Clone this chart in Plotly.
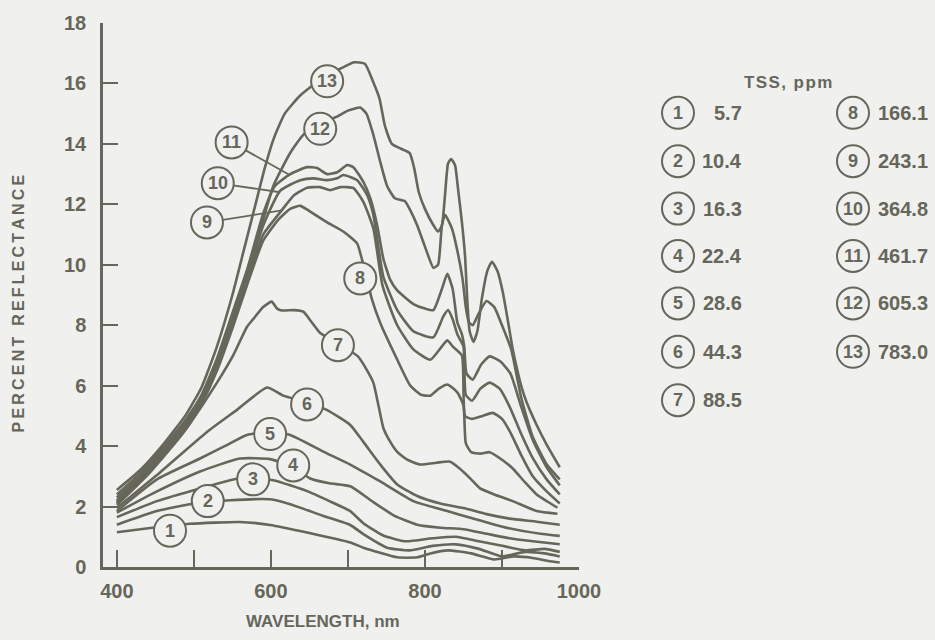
import plotly.graph_objects as go

# ---------------- data ----------------
wl1 = [400, 446, 495, 560, 599, 647, 703, 720, 764, 790, 807, 830, 860, 890, 915, 940, 960, 975]
r1 = [1.15, 1.3, 1.43, 1.49, 1.39, 1.14, 0.81, 0.64, 0.32, 0.32, 0.45, 0.55, 0.45, 0.25, 0.35, 0.3, 0.2, 0.15]

wl2 = [400, 452, 500, 547, 599, 625, 668, 703, 720, 751, 780, 810, 840, 870, 900, 930, 955, 975]
r2 = [1.4, 1.85, 2.1, 2.21, 2.24, 2.08, 1.69, 1.39, 1.09, 0.64, 0.55, 0.7, 0.75, 0.6, 0.35, 0.5, 0.45, 0.35]

wl3 = [400, 452, 508, 556, 577, 603, 647, 676, 703, 720, 746, 775, 810, 840, 870, 900, 930, 955, 975]
r3 = [1.65, 2.18, 2.6, 2.92, 2.92, 2.87, 2.51, 2.18, 1.85, 1.45, 1.04, 0.85, 0.95, 1.0, 0.85, 0.7, 0.55, 0.6, 0.5]

wl4 = [400, 452, 508, 560, 599, 630, 651, 676, 703, 730, 760, 790, 820, 850, 880, 910, 940, 975]
r4 = [1.8, 2.5, 3.16, 3.59, 3.57, 3.3, 2.93, 2.77, 2.67, 2.2, 1.7, 1.4, 1.3, 1.25, 1.1, 0.95, 0.85, 0.75]

wl5 = [400, 452, 508, 540, 569, 599, 625, 668, 703, 742, 785, 829, 859, 906, 950, 975]
r5 = [1.85, 2.9, 3.59, 4.0, 4.37, 4.45, 4.37, 3.82, 3.39, 2.83, 2.18, 1.85, 1.63, 1.3, 1.1, 1.03]

wl6 = [400, 450, 517, 556, 595, 616, 647, 673, 703, 720, 742, 764, 790, 820, 850, 880, 910, 945, 975]
r6 = [1.95, 3.0, 4.47, 5.2, 5.94, 5.67, 5.45, 5.19, 4.7, 4.14, 3.39, 2.73, 2.35, 2.1, 1.95, 1.75, 1.6, 1.5, 1.4]

wl7 = [400, 440, 482, 495, 530, 551, 569, 577, 590, 601, 608, 614, 630, 642, 653, 664, 690, 713,
       725, 733, 740, 746, 755, 764, 777, 794, 815, 832, 845, 860, 871, 890, 914, 945, 972]
r7 = [2.05, 3.05, 4.3, 4.75, 6.1, 7.0, 7.95, 8.2, 8.6, 8.78, 8.55, 8.49, 8.5, 8.45, 8.1, 7.74, 7.35, 6.97,
      6.5, 6.1, 5.3, 4.6, 4.14, 3.81, 3.55, 3.39, 3.45, 3.49, 3.26, 2.9, 2.61, 2.4, 2.18, 1.85, 1.76]

wl8 = [400, 430, 460, 490, 510, 530, 550, 570, 590, 610, 625, 638, 651, 673, 694, 712, 718, 725, 731,
       742, 764, 781, 795, 807, 818, 829, 842, 850, 853, 860, 872, 884, 900, 914, 930, 945, 960, 972]
r8 = [2.1, 2.85, 3.65, 4.6, 5.4, 6.5, 7.9, 9.4, 10.8, 11.5, 11.85, 11.95, 11.76, 11.4, 11.1, 10.7, 10.2, 9.5, 8.87,
      8.07, 6.86, 6.0, 5.7, 5.67, 5.9, 6.04, 5.78, 5.35, 4.1, 3.8, 3.75, 3.8, 3.55, 3.26, 2.8, 2.4, 2.15, 1.96]

wl9 = [400, 430, 460, 490, 510, 530, 550, 570, 590, 614, 630, 647, 664, 677, 690, 707, 720, 733, 745,
       764, 785, 807, 822, 829, 836, 848, 852, 861, 875, 888, 900, 912, 925, 940, 958, 975]
r9 = [2.15, 2.9, 3.75, 4.7, 5.5, 6.6, 8.0, 9.55, 11.0, 11.8, 12.3, 12.55, 12.57, 12.47, 12.57, 12.54, 12.08, 11.2, 9.3,
      8.0, 7.2, 6.86, 7.3, 7.5, 7.3, 7.0, 5.0, 4.9, 5.0, 5.1, 4.9, 4.4, 3.7, 3.0, 2.5, 2.1]

wl10 = [400, 430, 460, 490, 510, 530, 550, 570, 590, 612, 638, 655, 673, 686, 694, 712, 725, 733, 740,
        746, 764, 785, 811, 824, 830, 836, 842, 850, 853, 861, 872, 884, 897, 910, 925, 940, 958, 975]
r10 = [2.2, 2.95, 3.8, 4.75, 5.55, 6.7, 8.1, 9.7, 11.3, 12.45, 12.8, 12.86, 12.8, 12.86, 12.97, 12.8, 12.3, 11.65, 10.5,
       9.6, 8.5, 7.8, 7.6, 8.3, 8.5, 8.2, 7.7, 7.3, 5.7, 5.5, 5.9, 6.1, 5.9, 5.3, 4.4, 3.6, 2.9, 2.4]

wl11 = [400, 430, 460, 490, 510, 530, 550, 570, 590, 605, 625, 647, 660, 673, 686, 699, 707, 720, 729,
        738, 746, 755, 764, 785, 800, 811, 822, 829, 836, 842, 848, 851, 854, 862, 873, 884, 898, 911,
        925, 940, 958, 975]
r11 = [2.3, 3.0, 3.85, 4.8, 5.6, 6.8, 8.2, 9.9, 11.7, 12.6, 13.0, 13.23, 13.2, 13.0, 13.06, 13.3, 13.23, 12.74, 12.2,
       11.3, 10.2, 9.5, 9.15, 8.7, 8.55, 8.5, 9.2, 9.7, 9.2, 8.1, 7.7, 7.3, 6.4, 6.2, 6.7, 6.97, 6.8, 6.4,
       5.3, 4.2, 3.3, 2.7]

wl12 = [400, 430, 460, 490, 510, 530, 550, 570, 590, 603, 625, 642, 665, 686, 700, 716, 724, 733, 742,
        751, 761, 774, 781, 790, 800, 811, 817, 822, 826, 835, 843, 849, 853, 857, 862, 870, 880, 890,
        900, 912, 925, 940, 958, 975]
r12 = [2.4, 3.1, 3.95, 4.9, 5.7, 6.9, 8.4, 9.9, 11.5, 12.6, 13.7, 14.3, 14.7, 14.9, 15.1, 15.2, 15.0, 14.3, 13.4,
       12.6, 12.2, 12.1, 11.8, 11.3, 10.6, 9.9, 10.0, 11.3, 11.65, 11.2, 10.35, 9.5, 8.6, 8.1, 8.0, 8.4, 8.8, 8.6,
       8.0, 7.2, 5.6, 4.3, 3.4, 2.9]

wl13 = [400, 430, 460, 490, 510, 530, 550, 565, 580, 592, 604, 618, 638, 655, 675, 695, 708, 722, 732,
        741, 748, 757, 768, 780, 786, 792, 800, 810, 817, 822, 826, 830, 834, 839, 843, 848, 852, 855,
        858, 863, 868, 874, 881, 887, 894, 901, 908, 914, 920, 926, 932, 945, 958, 975]
r13 = [2.55, 3.2, 4.05, 5.05, 5.95, 7.3, 9.0, 10.5, 12.0, 13.2, 14.2, 15.0, 15.6, 15.95, 16.3, 16.55, 16.7, 16.65, 16.1,
       15.5, 14.6, 14.0, 13.85, 13.7, 13.2, 12.4, 11.85, 11.35, 11.1, 11.3, 12.3, 13.35, 13.5, 13.3, 12.5, 11.4, 10.3, 8.8,
       7.8, 7.45, 7.8, 8.9, 9.8, 10.1, 9.8, 9.1, 8.1, 7.2, 6.5, 5.9, 5.45, 4.7, 4.05, 3.3]

curve_wl = [wl1, wl2, wl3, wl4, wl5, wl6, wl7, wl8, wl9, wl10, wl11, wl12, wl13]
curve_r = [r1, r2, r3, r4, r5, r6, r7, r8, r9, r10, r11, r12, r13]
curve_ids = ["1", "2", "3", "4", "5", "6", "7", "8", "9", "10", "11", "12", "13"]
tss_ppm = ["5.7", "10.4", "16.3", "22.4", "28.6", "44.3", "88.5",
           "166.1", "243.1", "364.8", "461.7", "605.3", "783.0"]

# in-chart circled labels (wavelength, reflectance)
label_wl = [469, 518, 577, 629, 599, 647, 687, 716, 517, 531, 549, 664, 673]
label_r = [1.2, 2.18, 2.9, 3.36, 4.4, 5.38, 7.34, 9.55, 11.4, 12.7, 14.05, 14.5, 16.07]
# leader lines for labels 9, 10, 11 -> point on curve
leader_ids = [9, 10, 11]
leader_wl = [614, 612, 625]
leader_r = [11.8, 12.4, 12.96]

x_ticks = [400, 500, 600, 700, 800, 900, 1000]
x_ticktext = ["400", "", "600", "", "800", "", "1000"]
y_ticks = [0, 2, 4, 6, 8, 10, 12, 14, 16, 18]

# ---------------- style ----------------
BG = "#f0f0ef"
INK = "#66665a"
FONT = "Liberation Sans, Arial, sans-serif"
W, H = 935, 640
ML, MR, MT, MB = 103, 356, 16, 73
PW, PH = W - ML - MR, H - MT - MB
THIN = "\u2009"
HAIR = "\u200a"


def px_x(px):
    return (px - ML) / PW


def px_y(py):
    return (H - MB - py) / PH


def spaced(s, sep):
    return sep.join(list(s))


fig = go.Figure()
for wl, r, cid in zip(curve_wl, curve_r, curve_ids):
    fig.add_trace(go.Scatter(x=wl, y=r, mode="lines", name=cid,
                             line=dict(color=INK, width=2.6, shape="spline", smoothing=0.5),
                             showlegend=False, hoverinfo="skip"))

shapes = []
annotations = []
R = 16

# leader lines
for lid, lx, ly in zip(leader_ids, leader_wl, leader_r):
    i = lid - 1
    shapes.append(dict(type="line", xref="x", yref="y", x0=label_wl[i], y0=label_r[i],
                       x1=lx, y1=ly, line=dict(color=INK, width=1.8), layer="above"))

# circled labels on the curves
for i, cid in enumerate(curve_ids):
    shapes.append(dict(type="circle", xref="x", yref="y", xsizemode="pixel", ysizemode="pixel",
                       xanchor=label_wl[i], yanchor=label_r[i], x0=-R, x1=R, y0=-R, y1=R,
                       line=dict(color=INK, width=2), fillcolor=BG, layer="above"))
    annotations.append(dict(x=label_wl[i], y=label_r[i], xref="x", yref="y", text=cid,
                            showarrow=False, font=dict(family=FONT, size=18, color=INK, weight="bold"),
                            xanchor="center", yanchor="middle"))

# key (TSS, ppm)
rows_py = [107, 156, 204, 252, 300, 349, 398]
for i, (cid, val) in enumerate(zip(curve_ids, tss_ppm)):
    if i < 7:
        cx, py = 678, rows_py[i]
        vx, anchor = 744, "right"
    else:
        cx, py = 853, rows_py[i - 7]
        vx, anchor = 876, "left"
    shapes.append(dict(type="circle", xref="paper", yref="paper", xsizemode="pixel", ysizemode="pixel",
                       xanchor=px_x(cx), yanchor=px_y(py), x0=-R, x1=R, y0=-R, y1=R,
                       line=dict(color=INK, width=2), fillcolor=BG))
    annotations.append(dict(x=px_x(cx), y=px_y(py), xref="paper", yref="paper", text=cid,
                            showarrow=False, font=dict(family=FONT, size=18, color=INK, weight="bold"),
                            xanchor="center", yanchor="middle"))
    annotations.append(dict(x=px_x(vx), y=px_y(py), xref="paper", yref="paper", text=val,
                            showarrow=False, font=dict(family=FONT, size=20, color=INK, weight="bold"),
                            xanchor=anchor, yanchor="middle"))

annotations.append(dict(x=px_x(788), y=px_y(76), xref="paper", yref="paper", text=spaced("TSS, ppm", HAIR),
                        showarrow=False, font=dict(family=FONT, size=17, color=INK, weight="bold"),
                        xanchor="center", yanchor="middle"))
# axis titles
annotations.append(dict(x=px_x(18), y=px_y(300), xref="paper", yref="paper",
                        text=spaced("PERCENT REFLECTANCE", THIN),
                        showarrow=False, textangle=-90,
                        font=dict(family=FONT, size=16, color=INK, weight="bold"),
                        xanchor="center", yanchor="middle"))
annotations.append(dict(x=px_x(323), y=px_y(622), xref="paper", yref="paper", text="WAVELENGTH, nm",
                        showarrow=False, font=dict(family=FONT, size=17, color=INK, weight="bold"),
                        xanchor="center", yanchor="middle"))

fig.update_layout(
    width=W, height=H,
    margin=dict(l=ML, r=MR, t=MT, b=MB, pad=0),
    paper_bgcolor=BG, plot_bgcolor=BG,
    shapes=shapes, annotations=annotations,
    xaxis=dict(range=[382, 1000], showline=True, linecolor=INK, linewidth=2.5,
               ticks="inside", ticklen=17, tickwidth=2.2, tickcolor=INK,
               tickvals=x_ticks, ticktext=x_ticktext, showgrid=False, zeroline=False,
               tickfont=dict(family=FONT, size=20, color=INK, weight="bold"),
               ticklabelstandoff=4, fixedrange=True),
    yaxis=dict(range=[0, 18], showline=True, linecolor=INK, linewidth=2.5,
               ticks="inside", ticklen=15, tickwidth=2.2, tickcolor=INK,
               tickvals=y_ticks, showgrid=False, zeroline=False,
               tickfont=dict(family=FONT, size=20, color=INK, weight="bold"),
               ticklabelstandoff=10, fixedrange=True),
)

fig.write_html("out.html")
